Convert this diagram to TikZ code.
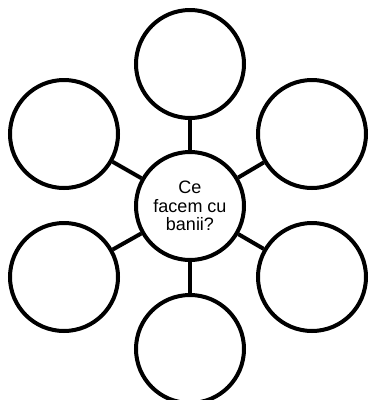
\documentclass[tikz,border=0pt]{standalone}
\usepackage{fontspec}
\setmainfont{Liberation Sans}
\begin{document}
\begin{tikzpicture}[x=1pt,y=1pt,
  bubble/.style={circle,draw=black,line width=4pt,minimum size=108pt,inner sep=0pt,fill=white},
  link/.style={line width=4pt,draw=black}]
\useasboundingbox (0,0) rectangle (369,-400);
\clip (0,0) rectangle (369,-400);
\node[bubble,align=center,font=\fontsize{18}{18.5}\selectfont] (c) at (190,-206) {Ce\\facem cu\\banii?};
\node[bubble] (t) at (190,-64) {};
\node[bubble] (ul) at (64,-134) {};
\node[bubble] (ur) at (312,-134) {};
\node[bubble] (ll) at (64,-277) {};
\node[bubble] (lr) at (312,-277) {};
\node[bubble] (b) at (190,-349) {};
\foreach \n in {t,ul,ur,ll,lr,b} {\draw[link] (c) -- (\n);}
\end{tikzpicture}
\end{document}
